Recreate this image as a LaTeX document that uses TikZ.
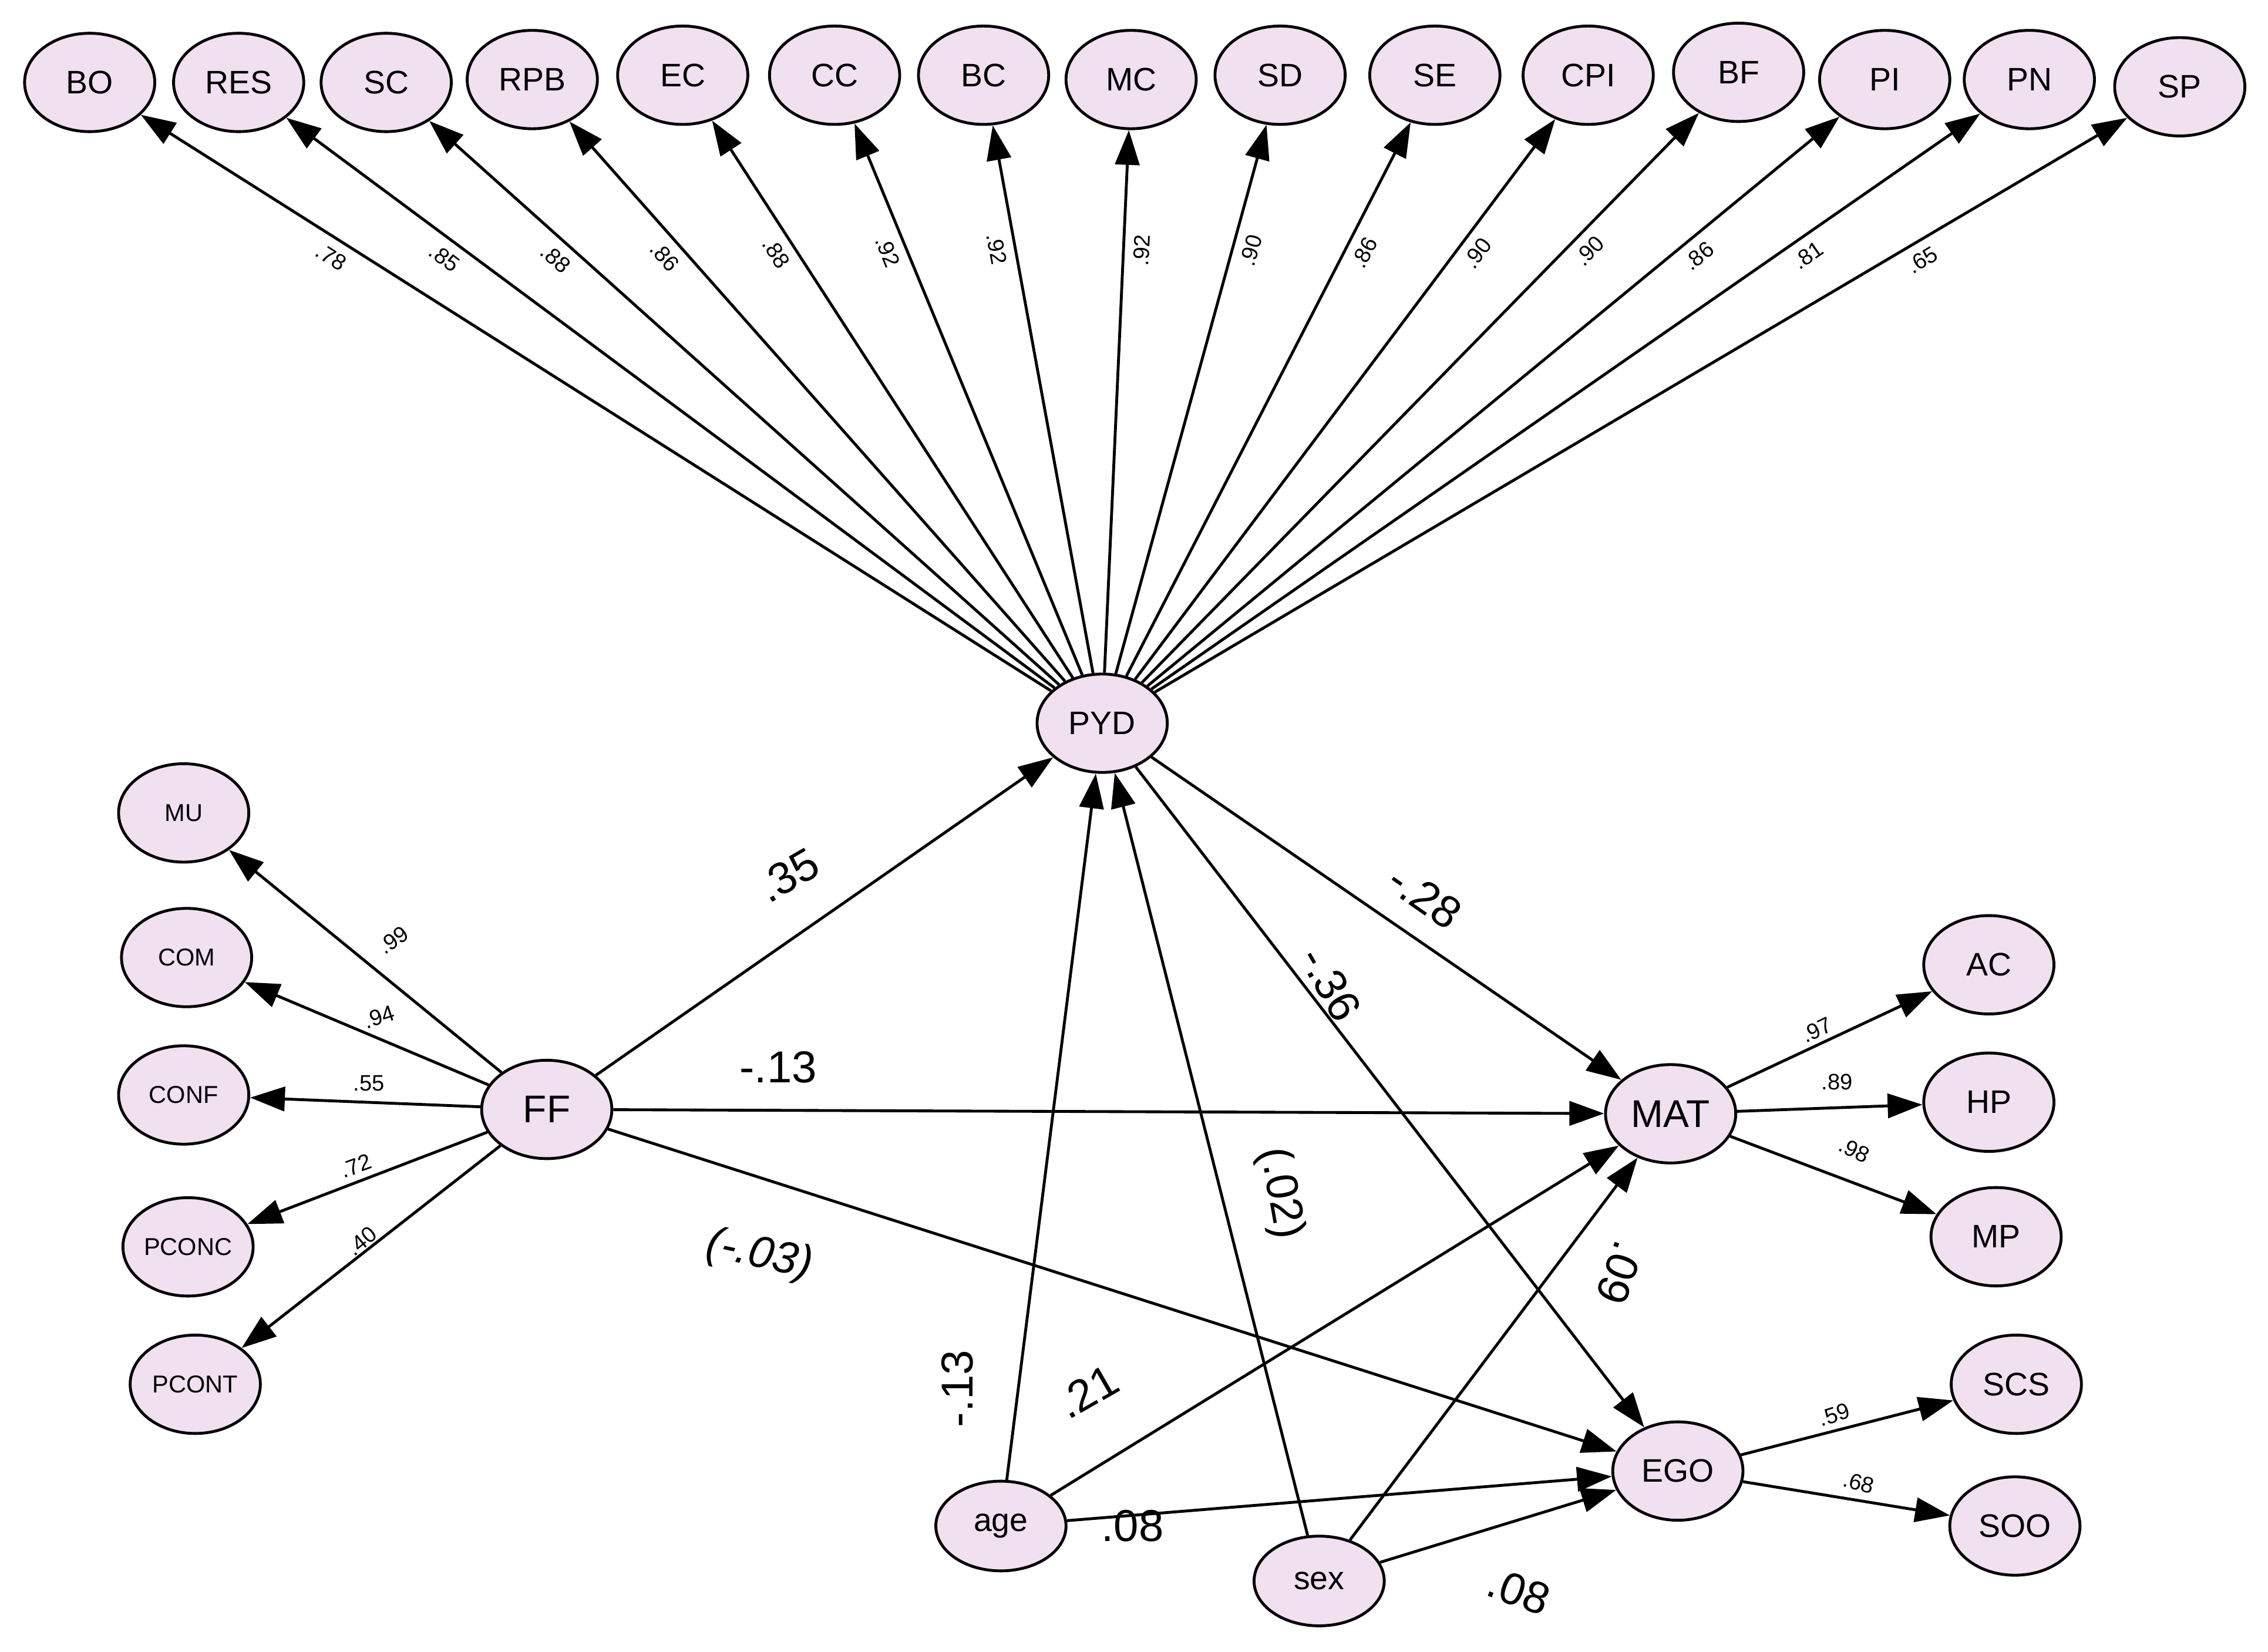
\documentclass[tikz,border=0pt]{standalone}
\usepackage{fontspec}
\setmainfont{Liberation Sans}
\usetikzlibrary{arrows.meta,shapes.geometric}
\begin{document}
\begin{tikzpicture}[x=0.025cm,y=-0.025cm,
 lv/.style={ellipse,draw,line width=1.4pt,fill=violet!12,minimum width=2.25cm,minimum height=1.7cm,inner sep=0pt,font=\fontsize{16}{16}\selectfont},
 sm/.style={lv,font=\fontsize{12}{12}\selectfont},
 ar/.style={line width=1.4pt,-{Triangle[length=0.6cm,width=0.42cm]}},
 big/.style={font=\fontsize{22}{22}\selectfont},
 lo/.style={font=\fontsize{11}{11}\selectfont}]
\useasboundingbox (0,0) rectangle (1568,1142);
\foreach \n/\x/\y in {BO/62/57,RES/165/57,SC/267/57,RPB/368/55,EC/472/52,CC/577/52,BC/680/52,MC/782/55,SD/885/52,SE/992/52,CPI/1098/52,BF/1202/50,PI/1303/55,PN/1403/55,SP/1507/60}
  \node[lv] (\n) at (\x,\y) {\n};
\node[lv] (PYD) at (762,500) {PYD};
\node[sm] (MU) at (127,562) {MU};
\node[sm] (COM) at (129,662) {COM};
\node[sm] (CONF) at (127,757) {CONF};
\node[sm] (PCONC) at (130,862) {PCONC};
\node[sm] (PCONT) at (135,957) {PCONT};
\node[lv,font=\fontsize{19}{19}\selectfont] (FF) at (378,767) {FF};
\node[lv,font=\fontsize{19}{19}\selectfont] (MAT) at (1155,770) {MAT};
\node[lv] (AC) at (1375,667) {AC};
\node[lv] (HP) at (1375,762) {HP};
\node[lv] (MP) at (1380,855) {MP};
\node[lv] (EGO) at (1160,1017) {EGO};
\node[lv] (SCS) at (1394,957) {SCS};
\node[lv] (SOO) at (1393,1055) {SOO};
\node[lv,minimum height=1.55cm] (age) at (692,1055) {age};
\node[lv,minimum height=1.55cm] (sex) at (912,1093) {sex};
\foreach \n/\v in {BO/.78,RES/.85,SC/.88,RPB/.86,EC/.88,CC/.92,BC/.92,MC/.92,SD/.90,SE/.86,CPI/.90,BF/.90,PI/.86,PN/.81,SP/.65}
  \draw[ar] (PYD) -- node[lo,pos=0.78,sloped,below=1pt] {\v} (\n);
\foreach \n in {MU,COM,CONF,PCONC,PCONT} \draw[ar] (FF) -- (\n);
\foreach \n in {AC,HP,MP} \draw[ar] (MAT) -- (\n);
\foreach \n in {SCS,SOO} \draw[ar] (EGO) -- (\n);
\draw[ar] (FF) -- (PYD);
\draw[ar] (FF) -- (MAT);
\draw[ar] (FF) -- (EGO);
\draw[ar] (PYD) -- (MAT);
\draw[ar] (PYD) -- (EGO);
\draw[ar] (age) -- (PYD);
\draw[ar] (sex) -- (PYD);
\draw[ar] (age) -- (MAT);
\draw[ar] (sex) -- (MAT);
\draw[ar] (age) -- (EGO);
\draw[ar] (sex) -- (EGO);
\node[lo,rotate=35] at (272,650) {.99};
\node[lo,rotate=18] at (262,703) {.94};
\node[lo] at (255,749) {.55};
\node[lo,rotate=20] at (246,806) {.72};
\node[lo,rotate=40] at (250,858) {.40};
\node[lo,rotate=25] at (1256,712) {.97};
\node[lo] at (1270,748) {.89};
\node[lo,rotate=-25] at (1282,795) {.98};
\node[lo,rotate=18] at (1268,978) {.59};
\node[lo,rotate=-15] at (1285,1025) {.68};
\node[big,rotate=30] at (545,605) {.35};
\node[big] at (538,738) {-.13};
\node[big,rotate=-12] at (525,868) {\itshape(-.03)};
\node[big,rotate=-35] at (985,620) {-.28};
\node[big,rotate=-60] at (920,680) {-.36};
\node[big,rotate=90] at (662,960) {-.13};
\node[big,rotate=30] at (752,962) {.21};
\node[big,rotate=-80] at (885,825) {(.02)};
\node[big,rotate=-110] at (1120,880) {.09};
\node[big] at (783,1055) {.08};
\node[big,rotate=-20] at (1050,1100) {.08};
\end{tikzpicture}
\end{document}
